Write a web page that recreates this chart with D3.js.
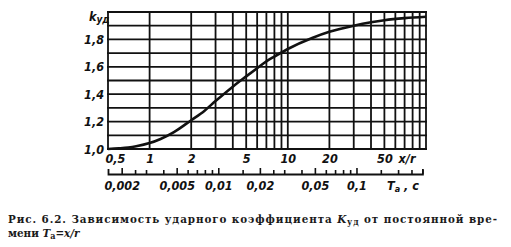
<!DOCTYPE html>
<html>
<head>
<meta charset="utf-8">
<script src="https://cdn.jsdelivr.net/npm/d3@7/dist/d3.min.js"></script>
<style>
  body { margin: 0; background: #fff; }
  .lbl { font-family: "DejaVu Sans Condensed", "DejaVu Sans", sans-serif; font-style: italic; font-weight: bold; font-size: 12.5px; fill: #111; }
</style>
</head>
<body>
<div id="chart"></div>
<script>
// curve: x/r ratio -> K_ud
const ratio = [0.5, 0.6, 0.7, 0.8, 1, 1.2, 1.5, 2, 2.5, 3, 4, 5, 6, 7, 8, 10, 15, 20, 30, 40, 50, 70, 100];
const kud   = [1.0, 1.005, 1.011, 1.02, 1.043, 1.073, 1.123, 1.21, 1.28, 1.35, 1.455, 1.53, 1.59, 1.64, 1.675, 1.73, 1.81, 1.855, 1.9, 1.925, 1.94, 1.955, 1.965];

const xGrid   = [0.5, 1, 2, 3, 4, 5, 6, 7, 8, 9, 10, 20, 30, 40, 50, 60, 70, 80, 90, 100];
const xLabels = [0.5, 1, 2, 5, 10, 20, 50];
const yGrid   = [1.0, 1.1, 1.2, 1.3, 1.4, 1.5, 1.6, 1.7, 1.8, 1.9, 2.0];
const yLabels = [1.0, 1.2, 1.4, 1.6, 1.8];
const timeTicks  = [0.002, 0.0025, 0.003, 0.004, 0.005, 0.006, 0.007, 0.008, 0.009, 0.01, 0.015, 0.02, 0.025, 0.03, 0.04, 0.05, 0.06, 0.07, 0.08, 0.09, 0.1, 0.15, 0.2, 0.25, 0.3];
const timeLabels = [0.002, 0.005, 0.01, 0.02, 0.05, 0.1];
const omega = 314; // Ta = (x/r) / omega

const width = 511, height = 247;
const plotLeft = 108, plotRight = 426, plotTop = 12, plotBottom = 149;

const svg = d3.select('#chart').append('svg')
    .attr('width', width)
    .attr('height', height);

const x = d3.scaleLog().domain([0.5, 100]).range([plotLeft, plotRight]);
const y = d3.scaleLinear().domain([1, 2]).range([plotBottom, plotTop]);
const t = d3.scaleLog().domain([0.5 / omega, 0.3]).range([plotLeft, x(0.3 * omega)]);

const comma = d => String(d).replace('.', ',');

// grid
svg.append('g').selectAll('line').data(xGrid).join('line')
    .attr('x1', d => x(d)).attr('x2', d => x(d))
    .attr('y1', plotTop - 1).attr('y2', plotBottom + 1)
    .attr('stroke', '#111').attr('stroke-width', 1.8);
svg.append('g').selectAll('line').data(yGrid).join('line')
    .attr('x1', plotLeft - 1).attr('x2', plotRight + 1)
    .attr('y1', d => y(d)).attr('y2', d => y(d))
    .attr('stroke', '#111').attr('stroke-width', 1.8);

// curve
const line = d3.line()
    .x((d, i) => x(ratio[i]))
    .y(d => y(d))
    .curve(d3.curveMonotoneX);
svg.append('path')
    .attr('d', line(kud))
    .attr('fill', 'none')
    .attr('stroke', '#111')
    .attr('stroke-width', 2.6);

// x/r labels
const xAxis = svg.append('g')
    .attr('transform', 'translate(0,' + plotBottom + ')')
    .call(d3.axisBottom(x).tickValues(xLabels).tickSize(0).tickPadding(5).tickFormat(comma));
xAxis.select('.domain').remove();
xAxis.selectAll('text').attr('class', 'lbl').attr('fill', null);
// first label starts at the plot edge, clear of the "1,0" label
xAxis.selectAll('text').filter(d => d === xLabels[0])
    .attr('text-anchor', 'start').attr('x', -3);
svg.append('text').attr('class', 'lbl')
    .attr('x', 407).attr('y', plotBottom + 14)
    .attr('text-anchor', 'middle').text('x/r');

// K labels
const yAxis = svg.append('g')
    .attr('transform', 'translate(' + plotLeft + ',0)')
    .call(d3.axisLeft(y).tickValues(yLabels).tickSize(0).tickPadding(4).tickFormat(d => d.toFixed(1).replace('.', ',')));
yAxis.select('.domain').remove();
yAxis.selectAll('text').attr('class', 'lbl').attr('fill', null);
const kLabel = svg.append('text').attr('class', 'lbl').attr('x', 89).attr('y', 21);
kLabel.append('tspan').text('k');
kLabel.append('tspan').attr('font-size', 10).attr('dy', 2).text('уд');

// time axis
const ty = 174;
const tAxis = svg.append('g')
    .attr('transform', 'translate(0,' + ty + ')')
    .call(d3.axisBottom(t).tickValues(timeTicks).tickSizeInner(-4).tickSizeOuter(-5).tickPadding(7)
        .tickFormat(d => timeLabels.includes(d) ? comma(d) : ''));
tAxis.select('.domain').attr('stroke', '#111').attr('stroke-width', 1.8);
tAxis.selectAll('.tick line').attr('stroke', '#111').attr('stroke-width', 1.6)
    .attr('y2', d => timeLabels.includes(d) ? -6 : -4);
tAxis.selectAll('text').attr('class', 'lbl').attr('fill', null);
const tLabel = svg.append('text').attr('class', 'lbl').attr('x', 387).attr('y', ty + 16);
tLabel.append('tspan').text('T');
tLabel.append('tspan').attr('font-size', 9).attr('dy', 2).text('а');
tLabel.append('tspan').attr('dy', -2).text(' , с');

// caption
const cap = svg.append('g')
    .attr('font-family', '"DejaVu Serif Condensed", "Liberation Serif", serif')
    .attr('font-weight', 'bold')
    .attr('font-size', 11.5)
    .attr('fill', '#1a1a1a');
const c1 = cap.append('text').attr('x', 8).attr('y', 223)
    .attr('textLength', 489).attr('lengthAdjust', 'spacing');
c1.append('tspan').text('Рис. 6.2. Зависимость ударного коэффициента ');
c1.append('tspan').attr('font-style', 'italic').text('K');
c1.append('tspan').attr('font-size', 9).attr('dy', 2).text('уд');
c1.append('tspan').attr('dy', -2).text(' от постоянной вре-');
const c2 = cap.append('text').attr('x', 8).attr('y', 237);
c2.append('tspan').text('мени ');
c2.append('tspan').attr('font-style', 'italic').text('T');
c2.append('tspan').attr('font-size', 9).attr('dy', 2).text('а');
c2.append('tspan').attr('dy', -2).text('=');
c2.append('tspan').attr('font-style', 'italic').text('x/r');
</script>
</body>
</html>
